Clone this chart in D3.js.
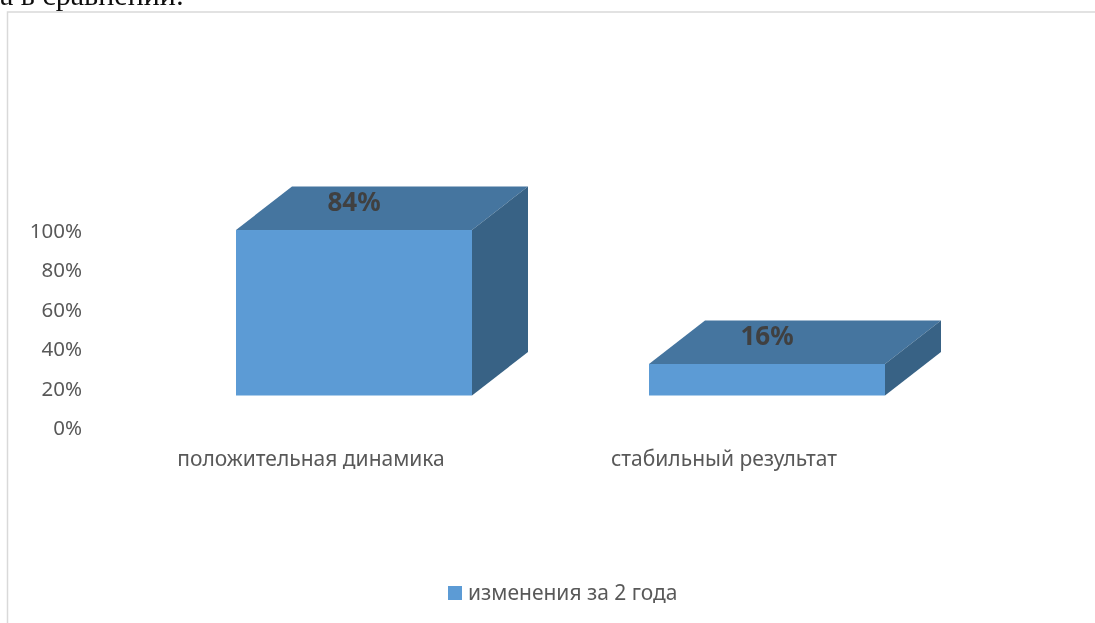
<!DOCTYPE html>
<html>
<head>
<meta charset="utf-8">
<script src="https://cdn.jsdelivr.net/npm/d3@7"></script>
<style>
  html, body { margin: 0; padding: 0; background: #fff; overflow: hidden; }
  svg { display: block; }
  text { font-family: "Noto Sans", "Open Sans", sans-serif; }
</style>
</head>
<body>
<svg width="1095" height="623">
  <defs>
    <filter id="soft" x="-5%" y="-5%" width="110%" height="110%">
      <feGaussianBlur stdDeviation="0.45"></feGaussianBlur>
    </filter>
  </defs>
</svg>
<script>
// data
const categories = ['положительная динамика', 'стабильный результат'];
const values = [84, 16];
const yTicks = [0, 20, 40, 60, 80, 100];
const seriesName = 'изменения за 2 года';

// the reference is a slightly soft scan, so everything goes in one blurred group
const svg = d3.select('svg').append('g').attr('filter', 'url(#soft)');

svg.append('rect').attr('width', 1095).attr('height', 623).attr('fill', '#fff');

// pseudo 3d offsets: the front face sits below the axis zero level, top goes back
const depthX = 56, depthY = 43.5, frontDrop = 32.5;

const xScale = d3.scaleBand().domain(categories).range([147.5, 973.5]).paddingInner(0.4286).paddingOuter(0.2143);
const yScale = d3.scaleLinear().domain([0, 100]).range([428, 231]);

// piece of body text cut off above the chart
svg.append('text')
    .attr('x', 0).attr('y', 5)
    .style('font-family', '"Liberation Serif", serif')
    .style('font-size', '30px')
    .style('fill', '#111')
    .text('а в сравнении:');

// chart frame, runs off the page right and bottom
svg.append('path')
    .attr('d', 'M1095,12 H7.5 V623')
    .attr('fill', 'none')
    .attr('stroke', '#d9d9d9')
    .attr('stroke-width', 1.5);

// axes
const yAxis = svg.append('g')
    .attr('transform', 'translate(82,0)')
    .call(d3.axisLeft(yScale).tickValues(yTicks).tickSize(0).tickPadding(0).tickFormat(d => d + '%'));
yAxis.select('.domain').remove();
yAxis.selectAll('text').style('font-size', '20.5px').style('fill', '#595959').attr('font-family', null);

const xAxis = svg.append('g')
    .attr('transform', 'translate(-43,451)')
    .call(d3.axisBottom(xScale).tickSize(0).tickPadding(0));
xAxis.select('.domain').remove();
xAxis.selectAll('text').style('font-size', '21px').style('fill', '#595959').attr('font-family', null);

// bars
const bars = svg.selectAll('g.bar')
    .data(categories.map((c, i) => ({ cat: c, value: values[i] })))
    .join('g')
    .attr('class', 'bar');

const left = d => xScale(d.cat);
const right = d => xScale(d.cat) + xScale.bandwidth();
const top_ = d => yScale(d.value) - frontDrop;
const base = yScale(0) - frontDrop;

bars.append('path')
    .attr('fill', '#44749f')
    .attr('d', d => `M${left(d)},${top_(d)} L${left(d) + depthX},${top_(d) - depthY} H${right(d) + depthX} L${right(d)},${top_(d)} Z`);

bars.append('path')
    .attr('fill', '#376285')
    .attr('d', d => `M${right(d)},${top_(d)} L${right(d) + depthX},${top_(d) - depthY} V${base - depthY} L${right(d)},${base} Z`);

bars.append('rect')
    .attr('fill', '#5b9bd5')
    .attr('x', left)
    .attr('y', top_)
    .attr('width', xScale.bandwidth())
    .attr('height', d => base - top_(d));

// value labels sit on the top face
bars.append('text')
    .attr('x', d => left(d) + xScale.bandwidth() / 2)
    .attr('y', d => top_(d) - 19)
    .attr('text-anchor', 'middle')
    .style('font-size', '26px')
    .style('font-weight', 700)
    .style('fill', '#404040')
    .text(d => d.value + '%');

// legend
svg.append('rect')
    .attr('x', 448).attr('y', 586)
    .attr('width', 14).attr('height', 14)
    .attr('fill', '#5b9bd5');
svg.append('text')
    .attr('x', 468).attr('y', 600)
    .style('font-size', '21px')
    .style('fill', '#595959')
    .text(seriesName);
</script>
</body>
</html>
